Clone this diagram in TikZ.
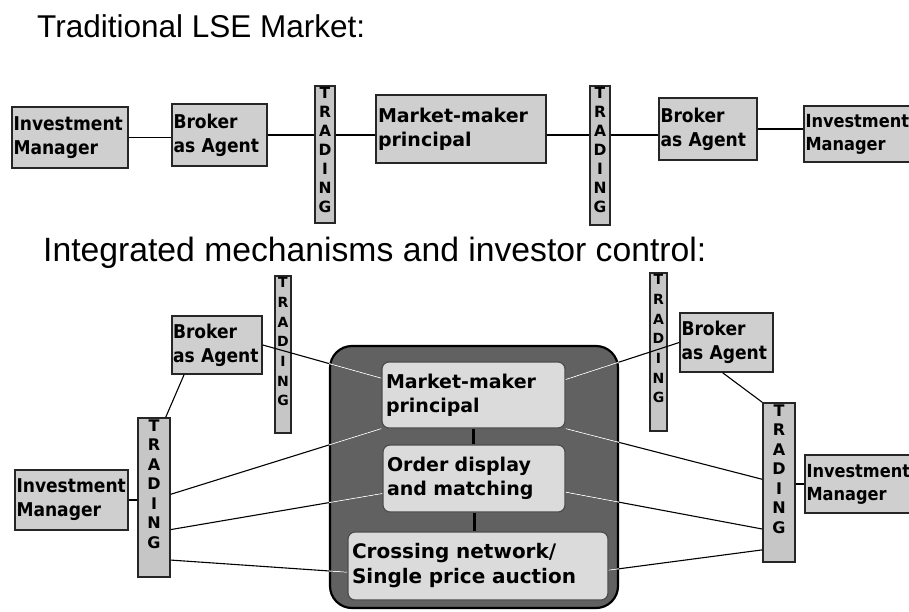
\documentclass[tikz,border=0pt]{standalone}
\usepackage{fontspec}
\setmainfont{DejaVu Sans}
\newfontfamily\titlefont{Liberation Sans}
\newfontfamily\boxfont{DejaVu Sans Condensed}
\usetikzlibrary{calc}
\newcommand\mylinks[1]{%
 \draw[#1] (b3.east) -- ($(mmi.north west)!0.25!(mmi.south west)$);
 \draw[#1] (b4.west) -- ($(mmi.north east)!0.27!(mmi.south east)$);
 \draw[#1] ($(t4.north east)!0.48!(t4.south east)$) -- (mmi.south west);
 \draw[#1] ($(t4.north east)!0.70!(t4.south east)$) -- ($(odi.north west)!0.72!(odi.south west)$);
 \draw[#1] ($(t4.north east)!0.89!(t4.south east)$) -- ($(cni.north west)!0.59!(cni.south west)$);
 \draw[#1] ($(t6.north west)!0.48!(t6.south west)$) -- (mmi.south east);
 \draw[#1] ($(t6.north west)!0.79!(t6.south west)$) -- ($(odi.north east)!0.70!(odi.south east)$);
 \draw[#1] ($(t6.north west)!0.92!(t6.south west)$) -- ($(cni.north east)!0.56!(cni.south east)$);
}
\begin{document}
\begin{tikzpicture}[x=1pt,y=-1pt,
 box/.style={draw=black!85, line width=1.6pt, fill=gray!38, inner sep=1pt,
   font=\boxfont\bfseries\fontsize{19}{24}\selectfont, align=left},
 mmbox/.style={box, font=\fontsize{19}{24}\selectfont\bfseries},
 tradebox/.style={draw=black!85, line width=1.4pt, fill=gray!45, inner sep=0pt},
 tradetext/.style={anchor=north, inner sep=2pt, align=center},
 bigbox/.style={draw=black, line width=2.2pt, fill=black!62, rounded corners=22pt},
 inbox/.style={draw=black!70, line width=1.2pt, fill=gray!28, rounded corners=7pt,
   inner sep=4pt, align=left, font=\fontsize{19}{24}\selectfont\bfseries},
 conn/.style={draw=black, line width=1.1pt},
 pale/.style={draw=gray!15, line width=1pt},
 title/.style={anchor=base west, inner sep=0pt}
]
\useasboundingbox[fill=white] (0,0) rectangle (909,611);

% titles
\node[title, font=\titlefont\fontsize{31.5}{36}\selectfont] (ttl1) at (37,37) {Traditional LSE Market:};
\node[title, font=\titlefont\fontsize{33.7}{38}\selectfont] (ttl2) at (43,261) {Integrated mechanisms and investor control:};

% ---------- top row ----------
\node[box, minimum width=116pt, minimum height=61pt, text width=113pt] (im1) at (70,137.5) {Investment\\Manager};
\node[box, minimum width=95pt, minimum height=62pt, text width=92pt] (b1) at (219.5,135) {Broker\\as Agent};
\node[tradebox, minimum width=20pt, minimum height=137pt] (t1) at (325,154.5) {};
\node[tradetext, font=\fontsize{15.5}{19}\selectfont\bfseries] (t1l) at (t1.north) {T\\R\\A\\D\\I\\N\\G};
\node[mmbox, minimum width=170pt, minimum height=68pt, text width=166pt] (mm1) at (461,129) {Market-maker\\principal};
\node[tradebox, minimum width=20pt, minimum height=139pt] (t2) at (600,155.5) {};
\node[tradetext, font=\fontsize{15.5}{19}\selectfont\bfseries] (t2l) at (t2.north) {T\\R\\A\\D\\I\\N\\G};
\node[box, minimum width=98pt, minimum height=62pt, text width=95pt] (b2) at (708,129) {Broker\\as Agent};
\node[box, minimum width=111pt, minimum height=56pt, text width=108pt, font=\boxfont\bfseries\fontsize{18}{23}\selectfont] (im2) at (859.5,134) {Investment\\Manager};

\draw[conn] (im1.east) -- (im1.east -| b1.west);
\draw[conn] (b1.east) -- (b1.east -| t1.west);
\draw[conn] (t1.east |- b1.east) -- (b1.east -| mm1.west);
\draw[conn] (mm1.east |- b1.east) -- (b1.east -| t2.west);
\draw[conn] (t2.east |- b1.east) -- (b1.east -| b2.west);
\draw[conn] (b2.east |- b2.west) -- (b2.west -| im2.west);

% ---------- bottom ----------
\node[bigbox, minimum width=288pt, minimum height=262pt] (big) at (474,477) {};
\node[inbox, minimum width=183pt, minimum height=66pt, text width=175pt] (mmi) at (473.5,395) {Market-maker\\principal};
\node[inbox, minimum width=182pt, minimum height=67pt, text width=174pt] (odi) at (474,478.5) {Order display\\and matching};
\node[inbox, minimum width=260pt, minimum height=68pt, text width=252pt, font=\fontsize{20}{25}\selectfont\bfseries] (cni) at (478,566) {Crossing network/\\Single price auction};
\draw[draw=black, line width=3pt] (mmi.south) -- (mmi.south |- odi.north);
\draw[draw=black, line width=3pt] (odi.south) -- (odi.south |- cni.north);

\node[box, minimum width=90pt, minimum height=58pt, text width=88pt] (b3) at (217,345) {Broker\\as Agent};
\node[box, minimum width=93pt, minimum height=59pt, text width=90pt] (b4) at (726.5,342.5) {Broker\\as Agent};
\node[box, minimum width=113pt, minimum height=60pt, text width=110pt] (im3) at (71.5,500) {Investment\\Manager};
\node[box, minimum width=110pt, minimum height=58pt, text width=107pt, font=\boxfont\bfseries\fontsize{18}{23}\selectfont] (im4) at (860,484) {Investment\\Manager};

\node[tradebox, minimum width=16pt, minimum height=157pt] (t3) at (283,354.5) {};
\node[tradetext, font=\fontsize{14}{19.7}\selectfont\bfseries] (t3l) at (t3.north) {T\\R\\A\\D\\I\\N\\G};
\node[tradebox, minimum width=17pt, minimum height=158pt] (t5) at (658.5,352) {};
\node[tradetext, font=\fontsize{14}{19.7}\selectfont\bfseries] (t5l) at (t5.north) {T\\R\\A\\D\\I\\N\\G};
\node[tradebox, minimum width=32pt, minimum height=159pt] (t4) at (154,497.5) {};
\node[tradetext, font=\fontsize{16}{19.5}\selectfont\bfseries] (t4l) at (t4.north) {T\\R\\A\\D\\I\\N\\G};
\node[tradebox, minimum width=32pt, minimum height=159pt] (t6) at (779,482.5) {};
\node[tradetext, font=\fontsize{16}{19.5}\selectfont\bfseries] (t6l) at (t6.north) {T\\R\\A\\D\\I\\N\\G};

\draw[conn] (im3.east) -- (im3.east -| t4.west);
\draw[conn] (im4.west -| t6.east) -- (im4.west);
\draw[conn] ($(b3.south west)!0.14!(b3.south east)$) -- ($(t4.north west)!0.85!(t4.north east)$);
\draw[conn] ($(b4.south west)!0.46!(b4.south east)$) -- (t6.north west);

\mylinks{conn}
\begin{scope}
 \clip[rounded corners=22pt] (big.north west) rectangle (big.south east);
 \mylinks{pale}
\end{scope}
\end{tikzpicture}
\end{document}
